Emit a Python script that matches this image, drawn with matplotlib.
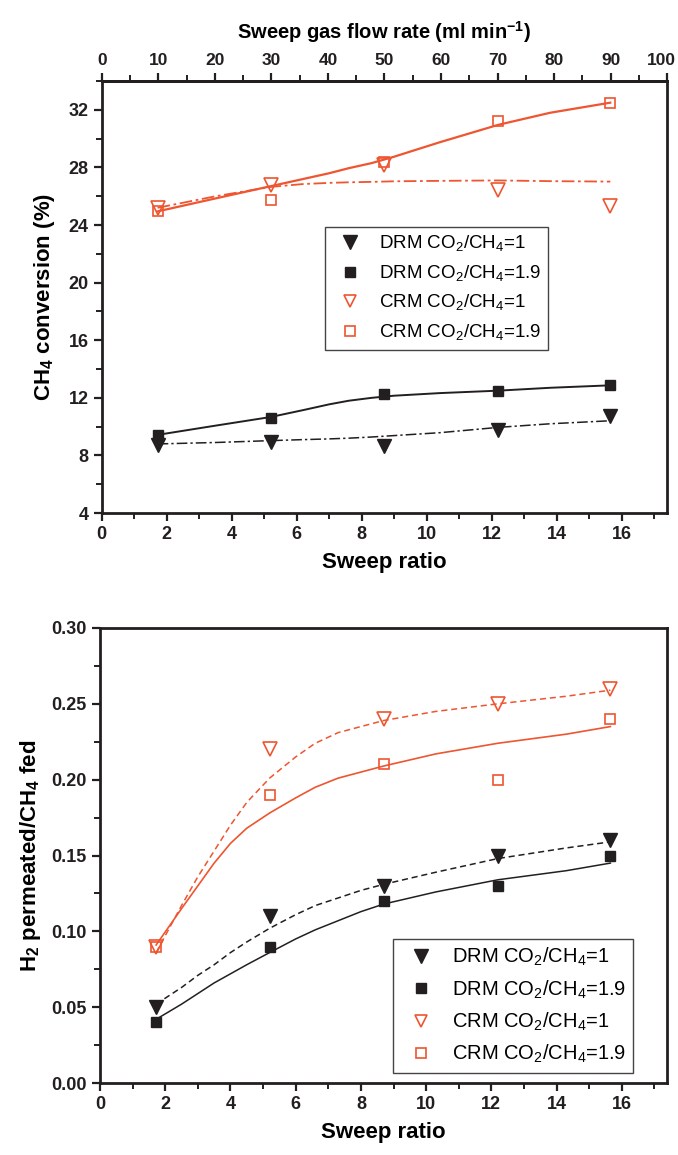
import matplotlib
matplotlib.use('Agg')
import matplotlib.pyplot as plt
from matplotlib.lines import Line2D
from matplotlib.ticker import MultipleLocator
from matplotlib.transforms import ScaledTranslation

plt.rcParams['font.family'] = ['Liberation Sans', 'DejaVu Sans']
plt.rcParams['mathtext.fontset'] = 'custom'
plt.rcParams['mathtext.rm'] = 'Liberation Sans'
plt.rcParams['mathtext.bf'] = 'Liberation Sans:bold'

RED = '#EE5530'
BLK = '#231F20'

# sweep ratio of the five runs (10..90 ml/min)
ratio = [1.72, 5.2, 8.7, 12.2, 15.65]

# top panel: CH4 conversion (%)
conv_drm1 = [8.7, 8.95, 8.65, 9.75, 10.75]
conv_drm19 = [9.4, 10.6, 12.3, 12.5, 12.9]
conv_crm1 = [25.2, 26.8, 28.2, 26.45, 25.35]
conv_crm19 = [24.95, 25.75, 28.35, 31.25, 32.5]

# fitted curves
fit_x_top = [1.72, 3.5, 5.2, 6.2, 7.0, 7.6, 8.3, 9.0, 10.4, 12.2, 13.8, 15.65]
fit_drm1 = [8.8, 8.9, 9.03, 9.1, 9.15, 9.2, 9.28, 9.38, 9.58, 9.95, 10.2, 10.41]
fit_drm19 = [9.43, 10.07, 10.67, 11.15, 11.55, 11.8, 12.0, 12.15, 12.33, 12.5, 12.7, 12.87]
fit_crm1 = [25.2, 26.0, 26.65, 26.85, 26.93, 26.97, 27.0, 27.04, 27.07, 27.1, 27.05, 27.02]
fit_crm19 = [24.95, 25.85, 26.7, 27.2, 27.6, 27.95, 28.3, 28.75, 29.75, 30.96, 31.8, 32.5]

# bottom panel: H2 permeated / CH4 fed
h2_drm1 = [0.05, 0.11, 0.13, 0.15, 0.16]
h2_drm19 = [0.04, 0.09, 0.12, 0.13, 0.15]
h2_crm1 = [0.09, 0.22, 0.24, 0.25, 0.26]
h2_crm19 = [0.09, 0.19, 0.21, 0.20, 0.24]

fit_x_bot = [1.72, 2.5, 3.0, 3.5, 4.0, 4.5, 5.2, 6.0, 6.6, 7.3, 8.0, 8.7, 10.3, 12.2, 14.3, 15.65]
fit_h2_drm1 = [0.052, 0.063, 0.071, 0.078, 0.086, 0.093, 0.102, 0.111, 0.117, 0.122, 0.127, 0.131,
               0.139, 0.148, 0.155, 0.159]
fit_h2_drm19 = [0.042, 0.052, 0.059, 0.066, 0.072, 0.078, 0.086, 0.095, 0.101, 0.107, 0.113, 0.118,
                0.126, 0.134, 0.140, 0.145]
fit_h2_crm1 = [0.086, 0.117, 0.136, 0.153, 0.170, 0.185, 0.201, 0.215, 0.224, 0.231, 0.235, 0.239,
               0.245, 0.250, 0.255, 0.259]
fit_h2_crm19 = [0.091, 0.115, 0.130, 0.145, 0.158, 0.168, 0.178, 0.188, 0.195, 0.201, 0.205, 0.209,
                0.217, 0.224, 0.230, 0.235]

labels = [r'DRM CO$_2$/CH$_4$=1', r'DRM CO$_2$/CH$_4$=1.9',
          r'CRM CO$_2$/CH$_4$=1', r'CRM CO$_2$/CH$_4$=1.9']

fig = plt.figure(figsize=(6.78, 11.55), dpi=100)
ax1 = fig.add_axes([0.150, 0.5558, 0.834, 0.374])
ax2 = fig.add_axes([0.1475, 0.0623, 0.837, 0.394])


def style(ax):
    for s in ax.spines.values():
        s.set_linewidth(2.0)
        s.set_color(BLK)
    ax.tick_params(which='major', direction='out', length=6, width=1.6, colors=BLK, right=False, top=False)
    ax.tick_params(which='minor', direction='out', length=4, width=1.4, colors=BLK, right=False, top=False)
    ax.xaxis.set_major_locator(MultipleLocator(2))
    ax.xaxis.set_minor_locator(MultipleLocator(1))
    ax.set_xlim(0, 17.4)
    for lab in ax.get_xticklabels() + ax.get_yticklabels():
        lab.set_fontsize(13)
        lab.set_fontweight('bold')
    ax.set_xlabel('Sweep ratio', fontsize=16, fontweight='bold', labelpad=6)


def legend(ax, anchor, fs, spacing):
    handles = [
        Line2D([], [], ls='none', marker='v', ms=10, mfc=BLK, mec=BLK),
        Line2D([], [], ls='none', marker='s', ms=7.5, mfc=BLK, mec=BLK),
        Line2D([], [], ls='none', marker='v', ms=9, mfc='none', mec=RED, mew=1.2),
        Line2D([], [], ls='none', marker='s', ms=7, mfc='none', mec=RED, mew=1.2),
    ]
    lg = ax.legend(handles, labels, loc='upper left', bbox_to_anchor=anchor, borderaxespad=0,
                   fancybox=False, edgecolor='#444444', framealpha=1, handlelength=2.0,
                   handletextpad=0.55, labelspacing=spacing, borderpad=0.35,
                   prop=dict(family='Liberation Sans', size=fs))
    lg.get_frame().set_linewidth(1.0)


# ---- top panel ----
ax1.plot(fit_x_top, fit_drm1, color=BLK, lw=1.1, ls=(0, (7, 2, 1.5, 2)))
ax1.plot(fit_x_top, fit_drm19, color=BLK, lw=1.4, ls='-')
ax1.plot(fit_x_top, fit_crm1, color=RED, lw=1.3, ls=(0, (7, 2, 1.5, 2)))
ax1.plot(fit_x_top, fit_crm19, color=RED, lw=1.6, ls='-')
ax1.plot(ratio, conv_drm1, ls='none', marker='v', ms=10, mfc=BLK, mec=BLK)
ax1.plot(ratio, conv_drm19, ls='none', marker='s', ms=7.5, mfc=BLK, mec=BLK)
ax1.plot(ratio, conv_crm1, ls='none', marker='v', ms=9.5, mfc='none', mec=RED, mew=1.2)
ax1.plot(ratio, conv_crm19, ls='none', marker='s', ms=7, mfc='none', mec=RED, mew=1.2)
ax1.set_ylim(4, 34)
ax1.yaxis.set_major_locator(MultipleLocator(4))
ax1.yaxis.set_minor_locator(MultipleLocator(2))
style(ax1)
ax1.set_ylabel(r'CH$_\mathbf{4}$ conversion (%)', fontsize=16, fontweight='bold', labelpad=8)
legend(ax1, (0.395, 0.662), 13.5, 0.5)

# secondary x axis: sweep gas flow rate
top = ax1.secondary_xaxis('top', functions=(lambda r: r / 0.174, lambda f: f * 0.174))
top.set_xticks(range(0, 101, 10))
top.xaxis.set_minor_locator(MultipleLocator(5))
top.tick_params(which='major', direction='out', length=6, width=1.6, colors=BLK)
top.tick_params(which='minor', direction='out', length=4, width=1.4, colors=BLK)
for lab in top.get_xticklabels():
    lab.set_fontsize(12.5)
    lab.set_fontweight('bold')
top.spines['top'].set_linewidth(2.0)
top.set_xlabel(r'Sweep gas flow rate (ml min$^\mathbf{-1}$)', fontsize=14.5, fontweight='bold',
               labelpad=10)

# ---- bottom panel ----
ax2.plot(fit_x_bot, fit_h2_drm1, color=BLK, lw=1.1, ls=(0, (4, 2.5)))
ax2.plot(fit_x_bot, fit_h2_drm19, color=BLK, lw=1.1, ls='-')
ax2.plot(fit_x_bot, fit_h2_crm1, color=RED, lw=1.1, ls=(0, (4, 2.5)))
ax2.plot(fit_x_bot, fit_h2_crm19, color=RED, lw=1.2, ls='-')
ax2.plot(ratio, h2_drm1, ls='none', marker='v', ms=10, mfc=BLK, mec=BLK)
ax2.plot(ratio, h2_drm19, ls='none', marker='s', ms=7.5, mfc=BLK, mec=BLK)
ax2.plot(ratio, h2_crm1, ls='none', marker='v', ms=10, mfc='none', mec=RED, mew=1.2)
ax2.plot(ratio, h2_crm19, ls='none', marker='s', ms=7.5, mfc='none', mec=RED, mew=1.2)
ax2.set_ylim(0, 0.30)
ax2.yaxis.set_major_locator(MultipleLocator(0.05))
ax2.yaxis.set_minor_locator(MultipleLocator(0.025))
ax2.yaxis.set_major_formatter(matplotlib.ticker.FormatStrFormatter('%.2f'))
style(ax2)
ax2.set_ylabel(r'H$_\mathbf{2}$ permeated/CH$_\mathbf{4}$ fed', fontsize=16, fontweight='bold',
               labelpad=6)
legend(ax2, (0.517, 0.3165), 14.5, 0.5)

# nudge the last top tick label ("100") so it stays inside the figure
fig.canvas.draw()
last = top.get_xticklabels()[-1]
last.set_transform(last.get_transform() + ScaledTranslation(-4 / 72, 0, fig.dpi_scale_trans))

fig.savefig('out.png', dpi=100)
